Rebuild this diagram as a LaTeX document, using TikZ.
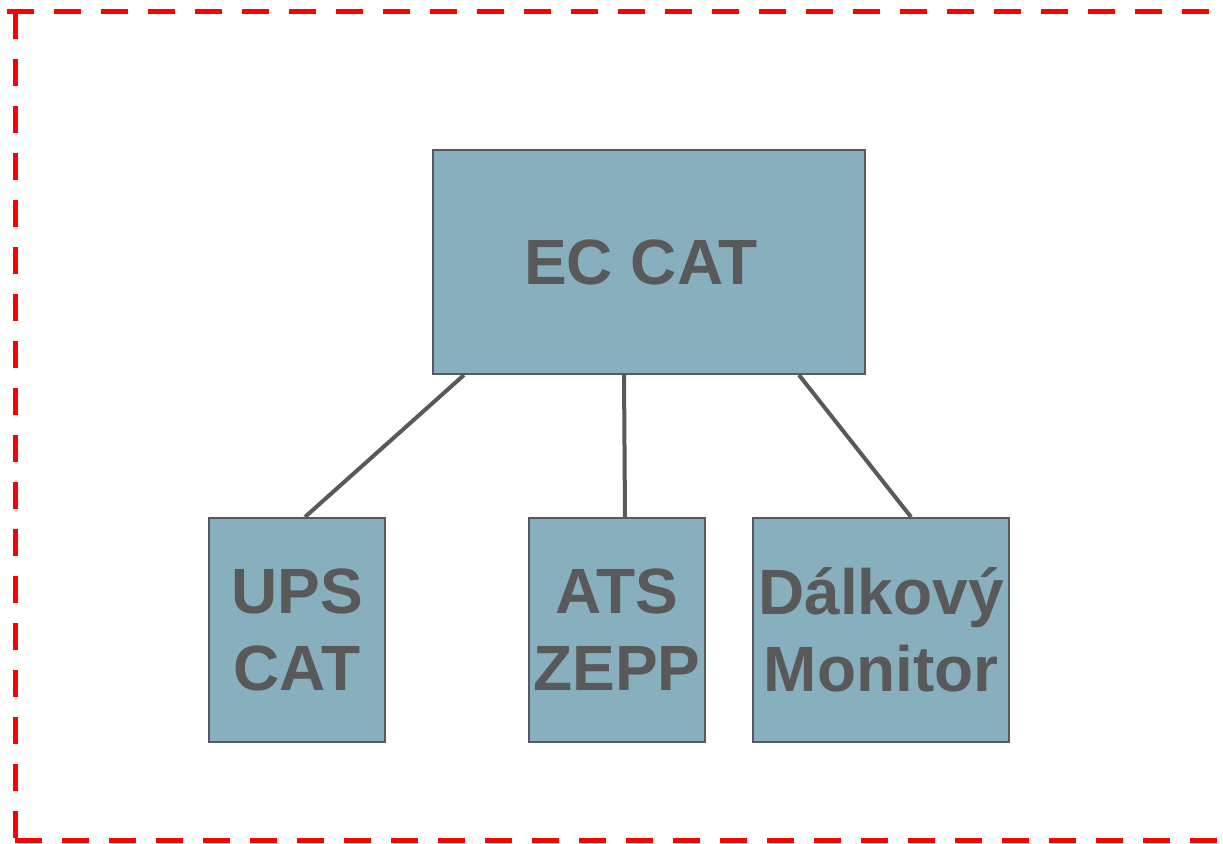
\documentclass[tikz,border=0pt]{standalone}
\usepackage{fontspec}
\setmainfont{Liberation Sans}
\usetikzlibrary{calc}
\definecolor{boxfill}{HTML}{87AFBE}
\definecolor{darkgr}{HTML}{595959}
\definecolor{framered}{HTML}{FF0000}
\tikzset{
  unitbox/.style={draw=darkgr, line width=2pt, fill=boxfill, inner sep=0pt,
    text=darkgr, font=\fontsize{64}{77}\selectfont\bfseries, align=center},
  link/.style={draw=darkgr, line width=4pt},
  frameline/.style={draw=framered, line width=5pt, dash pattern=on 27pt off 20pt}
}
\begin{document}
\begin{tikzpicture}[x=1pt,y=-1pt]
\useasboundingbox (0,0) rectangle (1223,843);
% frame
\coordinate (ftl0) at (7,12);
\coordinate (ftr) at (1230,12);
\coordinate (ftl) at (15,12);
\coordinate (fbl) at (15,840);
\coordinate (fbr) at (1230,840);
\draw[frameline] (ftl0) -- (ftr);
\draw[frameline] (ftl) -- (fbl);
\draw[frameline] (fbl) -- (fbr);
% boxes
\node[unitbox, minimum width=432pt, minimum height=224pt] (ec) at (649,262) {EC CAT\hspace{16pt}};
\node[unitbox, minimum width=176pt, minimum height=224pt] (ups) at (297,630) {UPS\\CAT};
\node[unitbox, minimum width=176pt, minimum height=224pt] (ats) at (617,630) {ATS\\ZEPP};
\node[unitbox, minimum width=256pt, minimum height=224pt] (mon) at (881,630) {Dálkový\\Monitor};
% connectors
\draw[link] ($(ec.south west)+(32,0)$) -- ($(ups.north)+(8,0)$);
\draw[link] ($(ec.south west)+(192,0)$) -- ($(ats.north)+(8,0)$);
\draw[link] ($(ec.south west)+(367,0)$) -- ($(mon.north west)+(159,0)$);
\end{tikzpicture}
\end{document}
